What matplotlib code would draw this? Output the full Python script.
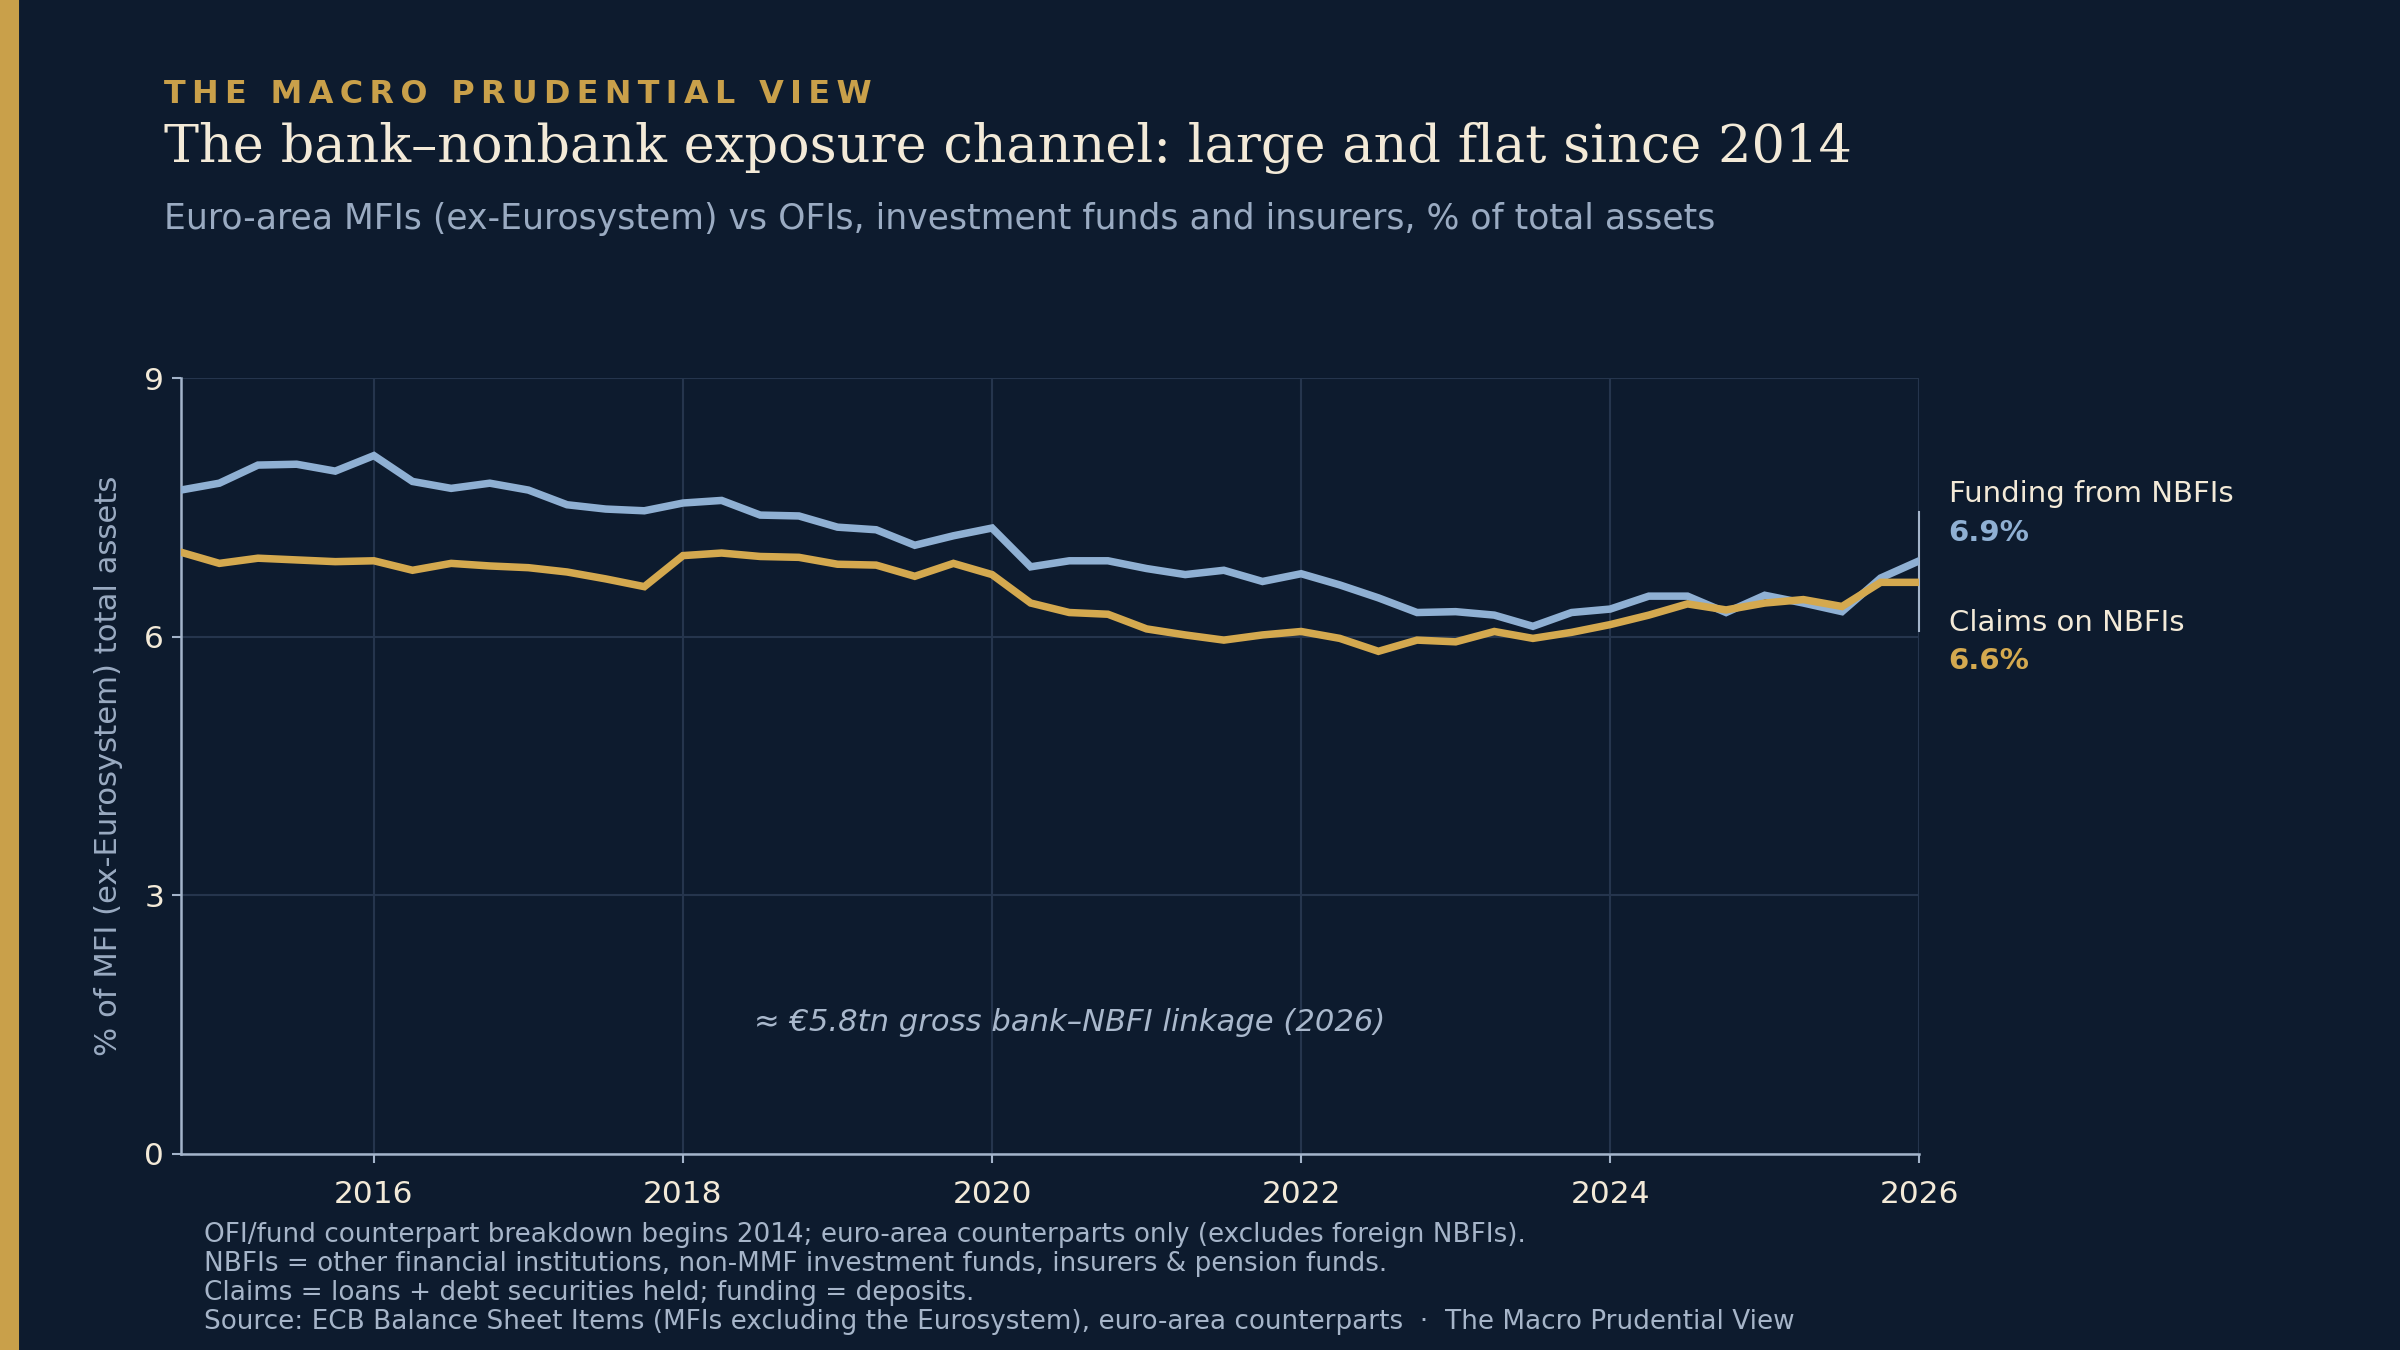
import numpy as np
import matplotlib
matplotlib.use("Agg")
import matplotlib.pyplot as plt

# ---------------- data ----------------
quarters = [f"{y}Q{q}" for y in range(2014, 2027) for q in range(1, 5)]
quarters = quarters[quarters.index("2014Q4"):quarters.index("2026Q1") + 1]

funding_from_nbfis = [7.70, 7.78, 7.99, 8.00, 7.92, 8.10, 7.80, 7.72, 7.78, 7.70,
                      7.53, 7.48, 7.46, 7.55, 7.58, 7.41, 7.40, 7.27, 7.24, 7.06,
                      7.17, 7.26, 6.81, 6.88, 6.88, 6.79, 6.72, 6.77, 6.64, 6.73,
                      6.60, 6.45, 6.28, 6.29, 6.25, 6.12, 6.28, 6.32, 6.47, 6.47,
                      6.28, 6.48, 6.39, 6.29, 6.68, 6.88]
claims_on_nbfis = [6.98, 6.85, 6.91, 6.89, 6.87, 6.88, 6.77, 6.85, 6.82, 6.80,
                   6.75, 6.67, 6.58, 6.94, 6.97, 6.93, 6.92, 6.84, 6.83, 6.70,
                   6.85, 6.72, 6.39, 6.28, 6.26, 6.09, 6.02, 5.96, 6.02, 6.06,
                   5.98, 5.83, 5.96, 5.94, 6.06, 5.98, 6.05, 6.14, 6.25, 6.38,
                   6.31, 6.39, 6.43, 6.35, 6.63, 6.63]

x_ticks = [2016, 2018, 2020, 2022, 2024, 2026]
y_ticks = [0, 3, 6, 9]

header = "THE MACRO PRUDENTIAL VIEW"
title = "The bank\u2013nonbank exposure channel: large and flat since 2014"
subtitle = "Euro-area MFIs (ex-Eurosystem) vs OFIs, investment funds and insurers, % of total assets"
ylabel = "% of MFI (ex-Eurosystem) total assets"
annotation = "\u2248 \u20ac5.8tn gross bank\u2013NBFI linkage (2026)"
footer = ["OFI/fund counterpart breakdown begins 2014; euro-area counterparts only (excludes foreign NBFIs).",
          "NBFIs = other financial institutions, non-MMF investment funds, insurers & pension funds.",
          "Claims = loans + debt securities held; funding = deposits.",
          "Source: ECB Balance Sheet Items (MFIs excluding the Eurosystem), euro-area counterparts  \u00b7  The Macro Prudential View"]

# ---------------- style ----------------
BG = "#0d1b2e"
GOLD = "#d4a94f"
GOLD_HDR = "#c9a04a"
BLUE = "#8fb0d3"
CREAM = "#f3ead8"
MUTED = "#9aabc2"
GRID = "#25354d"
SPINE = "#a3b4ca"

def qdec(q):
    y, n = q.split("Q")
    return int(y) + (int(n) - 1) / 4

x = np.array([qdec(q) for q in quarters])

fig = plt.figure(figsize=(16, 9), dpi=150, facecolor=BG)
ax = fig.add_axes([0.0753, 0.1452, 0.7244, 0.5748])
ax.set_facecolor(BG)

ax.plot(x, funding_from_nbfis, color=BLUE, lw=3.6, solid_joinstyle="miter", zorder=3)
ax.plot(x, claims_on_nbfis, color=GOLD, lw=3.6, solid_joinstyle="miter", zorder=3)

ax.set_xlim(x[0], x[-1])
ax.set_ylim(0, 9)
ax.set_xticks(x_ticks)
ax.set_yticks(y_ticks)
ax.grid(True, color=GRID, lw=1.0, zorder=0)
for s in ["top", "right"]:
    ax.spines[s].set_visible(False)
for s in ["left", "bottom"]:
    ax.spines[s].set_color(SPINE)
    ax.spines[s].set_linewidth(1.2)
ax.tick_params(colors=SPINE, labelcolor=CREAM, labelsize=15, length=4.5, width=1.0)
ax.tick_params(axis="x", pad=8)
ax.set_ylabel(ylabel, color=MUTED, fontsize=14.7, labelpad=10)

# vertical connector at the end
ax.plot([x[-1], x[-1]], [6.06, 7.45], color=SPINE, lw=1.0, clip_on=False, zorder=2)

# end labels
lx = x[-1] + 0.19
ax.text(lx, 7.65, "Funding from NBFIs", color=CREAM, fontsize=14, va="center", ha="left")
ax.text(lx, 7.20, f"{funding_from_nbfis[-1]:.1f}%", color=BLUE, fontsize=14,
        fontweight="bold", va="center", ha="left")
ax.text(lx, 6.16, "Claims on NBFIs", color=CREAM, fontsize=14, va="center", ha="left")
ax.text(lx, 5.72, f"{claims_on_nbfis[-1]:.1f}%", color=GOLD, fontsize=14,
        fontweight="bold", va="center", ha="left")

ax.text(0.33, 0.17, annotation, transform=ax.transAxes, color="#a9b8cc",
        fontsize=14.7, style="italic", va="center", ha="left")

# header block
fig.patches.append(plt.Rectangle((0, 0), 0.0075, 1, transform=fig.transFigure,
                                 color=GOLD_HDR, zorder=5))
spaced = "\u2009".join(" " if c == " " else c for c in header)
fig.text(0.0682, 0.930, spaced, color=GOLD_HDR, fontsize=15.3, fontweight="bold",
         va="center", ha="left")
fig.text(0.0682, 0.890, title, color=CREAM, fontsize=25.2, family="DejaVu Serif",
         va="center", ha="left")
fig.text(0.0682, 0.838, subtitle, color=MUTED, fontsize=16.6, va="center", ha="left")

for i, line in enumerate(footer):
    fig.text(0.0848, 0.0851 - i * 0.0215, line, color="#a6b5c9", fontsize=12.6,
             va="center", ha="left")

fig.savefig("out.png", dpi=150, facecolor=BG)
